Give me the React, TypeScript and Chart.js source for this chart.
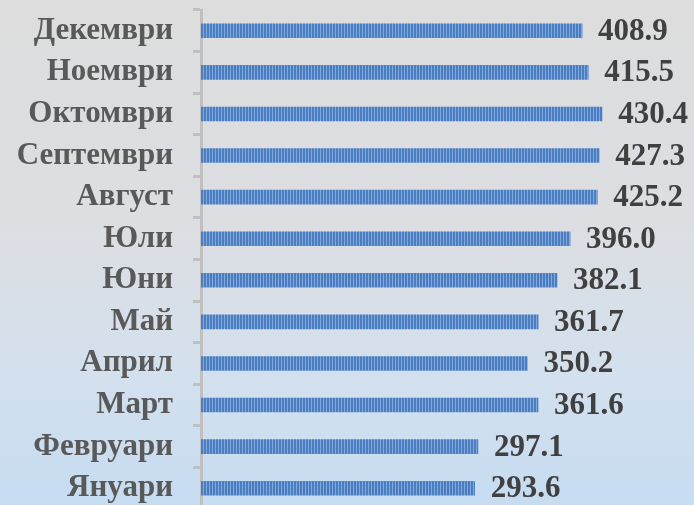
import React, { useEffect, useRef } from "react";
import { Chart, registerables } from "chart.js";

Chart.register(...registerables);

const months = ["Януари", "Февруари", "Март", "Април", "Май", "Юни", "Юли", "Август", "Септември", "Октомври", "Ноември", "Декември"];
const values = [293.6, 297.1, 361.6, 350.2, 361.7, 382.1, 396.0, 425.2, 427.3, 430.4, 415.5, 408.9];

function makePattern(): CanvasPattern | string {
  const c = document.createElement("canvas");
  c.width = 3;
  c.height = 4;
  const g = c.getContext("2d");
  if (!g) return "#4f81bd";
  g.fillStyle = "#4a7ec0";
  g.fillRect(0, 0, 2, 4);
  g.fillStyle = "#82a7da";
  g.fillRect(2, 0, 1, 4);
  const ctx = document.createElement("canvas").getContext("2d");
  return ctx!.createPattern(c, "repeat") || "#4f81bd";
}

const valueLabels = {
  id: "valueLabels",
  afterDatasetsDraw(chart: any) {
    const ctx = chart.ctx;
    const meta = chart.getDatasetMeta(0);
    ctx.save();
    ctx.font = "bold 31px 'Liberation Serif', serif";
    ctx.fillStyle = "#404040";
    ctx.textAlign = "left";
    ctx.textBaseline = "middle";
    meta.data.forEach((bar: any, i: number) => {
      ctx.fillText(values[i].toFixed(1), bar.x + 16, bar.y + 1);
    });
    ctx.restore();
  },
};

export default function App() {
  const ref = useRef<HTMLCanvasElement>(null);
  useEffect(() => {
    if (!ref.current) return;
    const pattern = makePattern();
    const chart = new Chart(ref.current, {
      type: "bar",
      data: {
        labels: months,
        datasets: [
          {
            data: values,
            backgroundColor: pattern as any,
            borderWidth: 0,
            barThickness: 14,
          },
        ],
      },
      options: {
        indexAxis: "y",
        animation: false,
        responsive: false,
        layout: { padding: { top: 10, right: 27, bottom: 6, left: 0 } },
        plugins: { legend: { display: false }, tooltip: { enabled: false } },
        scales: {
          x: { display: false, min: 0, max: 500 },
          y: {
            reverse: true,
            afterFit: (s: any) => {
              s.width = 201;
              s.paddingTop = 0;
              s.paddingBottom = 0;
            },
            border: { display: true, color: "#c0c0c0", width: 3 },
            grid: {
              display: true,
              offset: true,
              drawOnChartArea: false,
              drawTicks: true,
              tickLength: 8,
              color: "#c0c0c0",
              lineWidth: 3,
            },
            ticks: {
              padding: 20,
              color: "#595959",
              font: { family: "'Liberation Serif', serif", size: 31, weight: "bold" },
            },
          },
        },
      },
      plugins: [valueLabels],
    });
    return () => chart.destroy();
  }, []);
  return (
    <div
      style={{
        position: "fixed",
        left: 0,
        top: 0,
        width: 694,
        height: 505,
        overflow: "hidden",
        background: "linear-gradient(to bottom, #dddddd 0%, #dcdee2 45%, #d3e0ee 75%, #c6dcf1 100%)",
      }}
    >
      <canvas ref={ref} width={694} height={515} style={{ display: "block", width: 694, height: 515 }} />
    </div>
  );
}
